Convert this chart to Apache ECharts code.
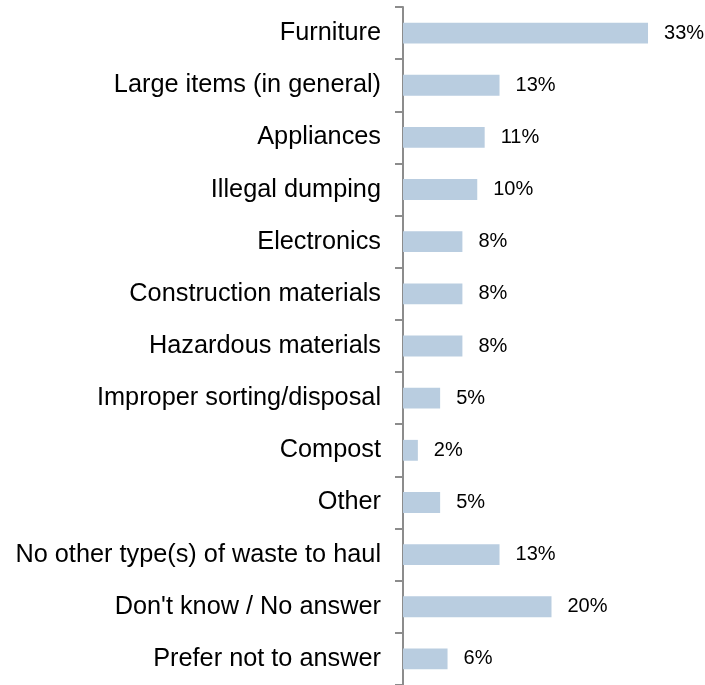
<!DOCTYPE html>
<html><head><meta charset="utf-8">
<script src="https://cdn.jsdelivr.net/npm/echarts@6/dist/echarts.min.js"></script>
<style>html,body{margin:0;padding:0;background:#fff}#c{width:705px;height:685px}</style>
</head><body><div id="c"></div>
<script>
const categories = ["Furniture","Large items (in general)","Appliances","Illegal dumping","Electronics","Construction materials","Hazardous materials","Improper sorting/disposal","Compost","Other","No other type(s) of waste to haul","Don't know / No answer","Prefer not to answer"];
const values = [33,13,11,10,8,8,8,5,2,5,13,20,6];

const chart = echarts.init(document.getElementById('c'));
chart.setOption({
  animation:false,
  grid:{left:403,top:7,width:297,height:680,containLabel:false},
  xAxis:{type:'value',min:0,max:40,show:false},
  yAxis:{type:'category',data:categories,inverse:true,
    axisLine:{show:true,lineStyle:{color:'#8c8c8c',width:2}},
    axisTick:{show:true,length:8,lineStyle:{color:'#8c8c8c',width:2}},
    axisLabel:{margin:22,color:'#000',fontSize:25.3,fontFamily:'Liberation Sans, Arial, sans-serif',padding:[4,0,0,0]},
    splitLine:{show:false}},
  series:[{type:'bar',data:values,barCategoryGap:'60%',
    itemStyle:{color:'#b9cde0'},
    label:{show:true,position:'right',distance:16,formatter:'{c}%',color:'#000',fontSize:20,fontFamily:'Liberation Sans, Arial, sans-serif'}}]
});
</script></body></html>
